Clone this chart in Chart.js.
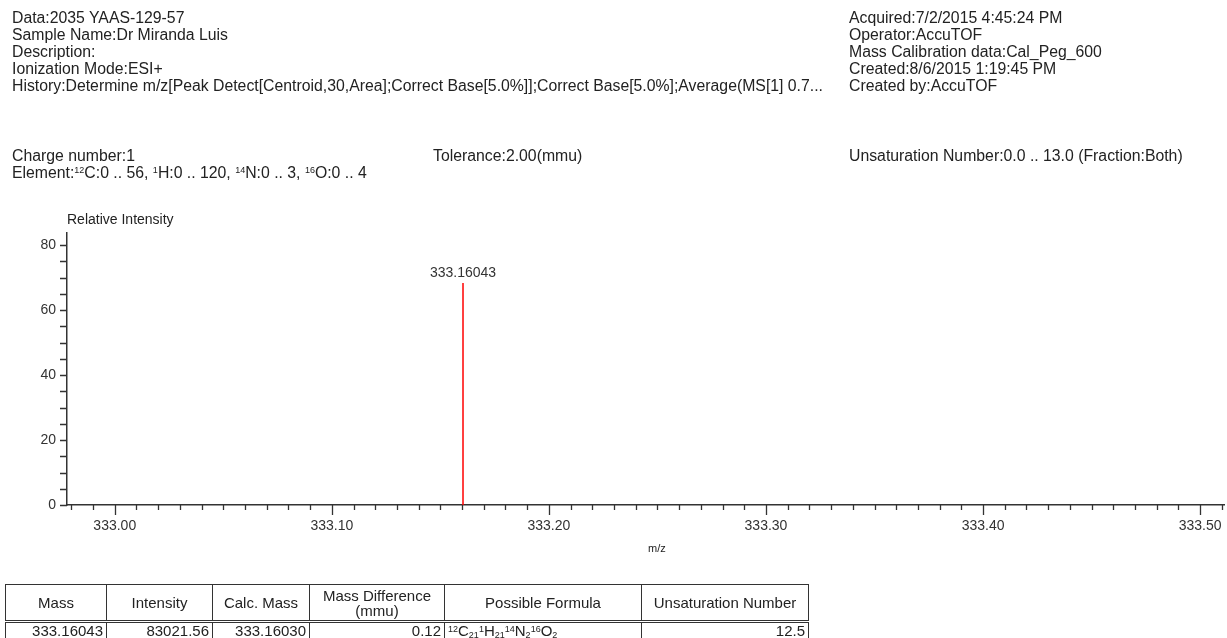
<!DOCTYPE html>
<html>
<head>
<meta charset="utf-8">
<script src="https://cdn.jsdelivr.net/npm/chart.js@4"></script>
<style>
  html, body { margin:0; padding:0; background:#fff; }
  body { width:1227px; height:638px; position:relative; overflow:hidden; font-family:"Liberation Sans", Arial, sans-serif; color:#222; }
  #wrap { position:absolute; left:0; top:0; width:1227px; height:638px; }
  .t { position:absolute; font-size:15.8px; white-space:nowrap; line-height:17px; }
  .t sup { font-size:9px; vertical-align:5px; line-height:0; }
  #tbl { position:absolute; left:5px; top:584px; border-collapse:collapse; font-size:15px; color:#222; table-layout:fixed; }
  #tbl td, #tbl th { border:1px solid #333; padding:0 3px; font-weight:normal; overflow:hidden; white-space:nowrap; }
  #tbl th { height:35px; line-height:15px; text-align:center; border-bottom:3px double #333; }
  #tbl td { height:15px; line-height:15px; text-align:right; }
  #tbl td.f { text-align:left; }
  #tbl sup { font-size:9px; vertical-align:4px; line-height:0; }
  #tbl sub { font-size:9px; vertical-align:-2px; line-height:0; }
</style>
</head>
<body>
<div id="wrap"><canvas id="c" width="1227" height="638"></canvas></div>

<div class="t" style="left:12px;top:9px">Data:2035 YAAS-129-57</div>
<div class="t" style="left:12px;top:26px">Sample Name:Dr Miranda Luis</div>
<div class="t" style="left:12px;top:43px">Description:</div>
<div class="t" style="left:12px;top:60px">Ionization Mode:ESI+</div>
<div class="t" style="left:12px;top:77px">History:Determine m/z[Peak Detect[Centroid,30,Area];Correct Base[5.0%]];Correct Base[5.0%];Average(MS[1] 0.7...</div>

<div class="t" style="left:849px;top:9px">Acquired:7/2/2015 4:45:24 PM</div>
<div class="t" style="left:849px;top:26px">Operator:AccuTOF</div>
<div class="t" style="left:849px;top:43px">Mass Calibration data:Cal_Peg_600</div>
<div class="t" style="left:849px;top:60px">Created:8/6/2015 1:19:45 PM</div>
<div class="t" style="left:849px;top:77px">Created by:AccuTOF</div>

<div class="t" style="left:12px;top:147px">Charge number:1</div>
<div class="t" style="left:433px;top:147px">Tolerance:2.00(mmu)</div>
<div class="t" style="left:849px;top:147px">Unsaturation Number:0.0 .. 13.0 (Fraction:Both)</div>
<div class="t" style="left:12px;top:164px">Element:<sup>12</sup>C:0 .. 56, <sup>1</sup>H:0 .. 120, <sup>14</sup>N:0 .. 3, <sup>16</sup>O:0 .. 4</div>

<div class="t" style="left:67px;top:211px;font-size:14px">Relative Intensity</div>
<div class="t" style="left:648px;top:540px;font-size:11px">m/z</div>

<table id="tbl">
  <colgroup>
    <col style="width:101px"><col style="width:106px"><col style="width:97px">
    <col style="width:135px"><col style="width:197px"><col style="width:167px">
  </colgroup>
  <tr>
    <th>Mass</th>
    <th>Intensity</th>
    <th>Calc. Mass</th>
    <th>Mass Difference<br>(mmu)</th>
    <th>Possible Formula</th>
    <th>Unsaturation Number</th>
  </tr>
  <tr id="row"></tr>
</table>

<script>
// ---- data ----
const peakMz = [333.16043];
const peakIntensity = [68.3];
const peakLabels = ['333.16043'];

const xMin = 332.978, xMax = 333.511;
const yMin = 0, yMax = 83.7;
const xMajorTicks = [333.00, 333.10, 333.20, 333.30, 333.40, 333.50];
const xMinorTicks = [332.98,332.99,333.01,333.02,333.03,333.04,333.05,333.06,333.07,333.08,333.09,
  333.11,333.12,333.13,333.14,333.15,333.16,333.17,333.18,333.19,
  333.21,333.22,333.23,333.24,333.25,333.26,333.27,333.28,333.29,
  333.31,333.32,333.33,333.34,333.35,333.36,333.37,333.38,333.39,
  333.41,333.42,333.43,333.44,333.45,333.46,333.47,333.48,333.49,333.51];
const yMajorTicks = [0, 20, 40, 60, 80];
const yMinorTicks = [5,10,15,25,30,35,45,50,55,65,70,75];

const tableMass = ['333.16043'];
const tableIntensity = ['83021.56'];
const tableCalcMass = ['333.16030'];
const tableMassDiff = ['0.12'];
const tableFormula = ['<sup>12</sup>C<sub>21</sub><sup>1</sup>H<sub>21</sub><sup>14</sup>N<sub>2</sub><sup>16</sup>O<sub>2</sub>'];
const tableUnsat = ['12.5'];

// ---- table ----
const row = document.getElementById('row');
row.innerHTML = '<td>' + tableMass[0] + '</td><td>' + tableIntensity[0] + '</td><td>' + tableCalcMass[0] +
  '</td><td>' + tableMassDiff[0] + '</td><td class="f">' + tableFormula[0] + '</td><td>' + tableUnsat[0] + '</td>';

// ---- chart ----
const datasets = peakMz.map((mz, i) => ({
  data: [{x: mz, y: 0}, {x: mz, y: peakIntensity[i]}],
  showLine: true,
  borderColor: '#ff0000',
  borderWidth: 1.5,
  pointRadius: 0
}));

const axisColor = '#333';
const tickPlugin = {
  id: 'ticks',
  afterDraw(chart) {
    const ctx = chart.ctx, xs = chart.scales.x, ys = chart.scales.y, ca = chart.chartArea;
    ctx.save();
    ctx.strokeStyle = axisColor;
    ctx.lineWidth = 1.3;
    ctx.beginPath();
    yMajorTicks.concat(yMinorTicks).forEach(v => {
      const py = Math.round(ys.getPixelForValue(v)) + 0.5;
      ctx.moveTo(ca.left - 7, py); ctx.lineTo(ca.left, py);
    });
    xMajorTicks.forEach(v => {
      const px = Math.round(xs.getPixelForValue(v)) + 0.5;
      ctx.moveTo(px, ca.bottom); ctx.lineTo(px, ca.bottom + 10);
    });
    xMinorTicks.forEach(v => {
      const px = Math.round(xs.getPixelForValue(v)) + 0.5;
      ctx.moveTo(px, ca.bottom); ctx.lineTo(px, ca.bottom + 5);
    });
    ctx.stroke();
    // peak labels
    ctx.fillStyle = '#333';
    ctx.font = '14px "Liberation Sans", Arial, sans-serif';
    ctx.textAlign = 'center';
    ctx.textBaseline = 'bottom';
    peakMz.forEach((mz, i) => {
      ctx.fillText(peakLabels[i], xs.getPixelForValue(mz), ys.getPixelForValue(peakIntensity[i]) - 3);
    });
    ctx.restore();
  }
};

new Chart(document.getElementById('c'), {
  type: 'scatter',
  data: { datasets },
  plugins: [tickPlugin],
  options: {
    responsive: false,
    animation: false,
    events: [],
    layout: { padding: { left: 0, right: 3, top: 233, bottom: 88 } },
    plugins: { legend: { display: false }, tooltip: { enabled: false } },
    scales: {
      x: {
        type: 'linear', min: xMin, max: xMax,
        afterBuildTicks: s => { s.ticks = xMajorTicks.map(v => ({ value: v })); },
        afterFit: s => { s.height = 45; },
        grid: { display: false, drawTicks: true, tickLength: 10 },
        border: { display: true, color: axisColor, width: 1.5 },
        ticks: {
          autoSkip: false, maxRotation: 0, padding: 3, color: '#333',
          font: { family: '"Liberation Sans", Arial, sans-serif', size: 14 },
          callback: v => v.toFixed(2)
        }
      },
      y: {
        type: 'linear', min: yMin, max: yMax,
        afterBuildTicks: s => { s.ticks = yMajorTicks.map(v => ({ value: v })); },
        afterFit: s => { s.width = 67; },
        grid: { display: false, drawTicks: true, tickLength: 7 },
        border: { display: true, color: axisColor, width: 1.5 },
        ticks: {
          autoSkip: false, padding: 4, color: '#333',
          font: { family: '"Liberation Sans", Arial, sans-serif', size: 14 },
          callback: v => String(v)
        }
      }
    }
  }
});
</script>
</body>
</html>
